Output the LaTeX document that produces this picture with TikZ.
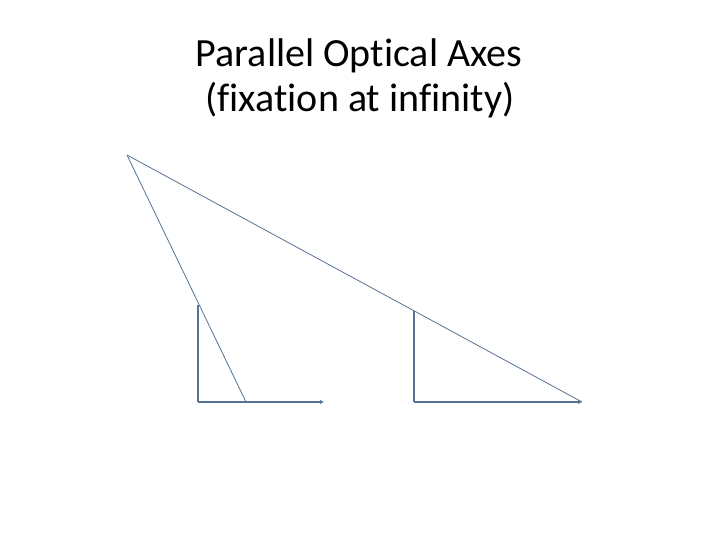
\documentclass[tikz,border=0pt]{standalone}
\usepackage{fontspec}
\setmainfont{Carlito}[Ligatures={NoCommon,NoContextual}]
\usetikzlibrary{arrows.meta}
\definecolor{axisblue}{RGB}{84,114,148}

\begin{document}
\begin{tikzpicture}[x=1pt,y=-1pt,
  ray/.style={draw=axisblue,line width=0.8pt},
  post/.style={draw=axisblue,line width=1.5pt},
  axis/.style={draw=axisblue,line width=2.4pt,-{Latex[length=4pt,width=4.5pt]}},
  title/.style={font=\fontsize{40}{48}\selectfont,anchor=base,inner sep=0pt}]

\useasboundingbox (0,0) rectangle (720,540);

\node[title] (line1) at (359,67) {Parallel Optical Axes};
\node[title] (line2) at (360,112) {(fixation at infinity)};

\coordinate (T) at (127,155);
\coordinate (L) at (198,305);
\coordinate (LB) at (198,402);
\coordinate (LH) at (246,402);
\coordinate (LE) at (324,402);
\coordinate (R) at (414,311);
\coordinate (RB) at (414,402);
\coordinate (RE) at (582,402);

\draw[ray] (T) -- (LH);
\draw[ray] (T) -- (RE);

\draw[post] (L) -- (LB);
\draw[post] (R) -- (RB);

\draw[axis] (LB) -- (LE);
\draw[axis] (RB) -- (RE);

\end{tikzpicture}
\end{document}
